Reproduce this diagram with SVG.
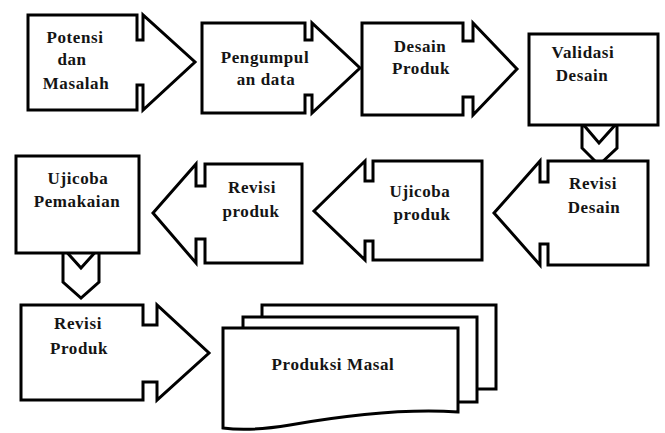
<svg xmlns="http://www.w3.org/2000/svg" width="665" height="433" viewBox="0 0 665 433">
<style>
.s{fill:#fff;stroke:#000;stroke-width:3;stroke-linejoin:miter}
.t{font-family:'Liberation Serif',serif;font-weight:700;font-size:17px;letter-spacing:0.6px;fill:#141414;text-anchor:middle}
</style>
<rect width="665" height="433" fill="#fff"/>
<g id="connectors">
<path class="s" d="M582,123 L599,143 L617,123 V148 L599,165 L582,148 Z"/>
<path class="s" d="M63,248 L81,268 L99,248 V282 L81,298 L63,282 Z"/>
</g>
<g id="potensi">
<path class="s" d="M28,15 H137 V40 H143 V15 L195,62 L143,110 V85 H137 V110 H28 Z"/>
<text class="t" x="75" y="43">Potensi</text>
<text class="t" x="72" y="65">dan</text>
<text class="t" x="76" y="89">Masalah</text>
</g>
<g id="pengumpulan">
<path class="s" d="M202,23 H305 V40 H312 V23 L360,68 L312,113 V95 H305 V113 H202 Z"/>
<text class="t" x="265" y="63">Pengumpul</text>
<text class="t" x="266" y="85">an data</text>
</g>
<g id="desain">
<path class="s" d="M362,23 H463 V41 H473 V23 L517,69 L473,115 V97 H463 V115 H362 Z"/>
<text class="t" x="420" y="52">Desain</text>
<text class="t" x="421" y="74">Produk</text>
</g>
<g id="validasi">
<rect class="s" x="529" y="34" width="129" height="91"/>
<text class="t" x="583" y="58">Validasi</text>
<text class="t" x="582" y="81">Desain</text>
</g>
<g id="revisi-desain">
<path class="s" d="M648,161 H548 V182 H540 V161 L494,213 L540,265 V244 H548 V265 H648 Z"/>
<text class="t" x="593" y="189">Revisi</text>
<text class="t" x="594" y="213">Desain</text>
</g>
<g id="ujicoba-produk">
<path class="s" d="M482,161 H373 V181 H365 V161 L314,211 L365,260 V241 H373 V260 H482 Z"/>
<text class="t" x="420" y="197">Ujicoba</text>
<text class="t" x="422" y="220">produk</text>
</g>
<g id="revisi-produk">
<path class="s" d="M302,164 H205 V186 H196 V164 L153,213 L196,263 V239 H205 V263 H302 Z"/>
<text class="t" x="252" y="193">Revisi</text>
<text class="t" x="251" y="217">produk</text>
</g>
<g id="ujicoba-pemakaian">
<rect class="s" x="16" y="156" width="123" height="97"/>
<text class="t" x="78" y="184">Ujicoba</text>
<text class="t" x="77" y="207">Pemakaian</text>
</g>
<g id="revisi-produk-2">
<path class="s" d="M21,305 H143 V325 H157 V305 L209,353 L157,400 V382 H143 V400 H21 Z"/>
<text class="t" x="78" y="329">Revisi</text>
<text class="t" x="79" y="354">Produk</text>
</g>
<g id="produksi-masal">
<path class="s" d="M262,305 H496 V389 H262 Z"/>
<path class="s" d="M243,317 H477 V402 H243 Z"/>
<path class="s" d="M223,328 H458 V412 C400,408 330,418 290,425 C260,430 238,430 223,428 Z"/>
<text class="t" x="333" y="370">Produksi Masal</text>
</g>
</svg>
